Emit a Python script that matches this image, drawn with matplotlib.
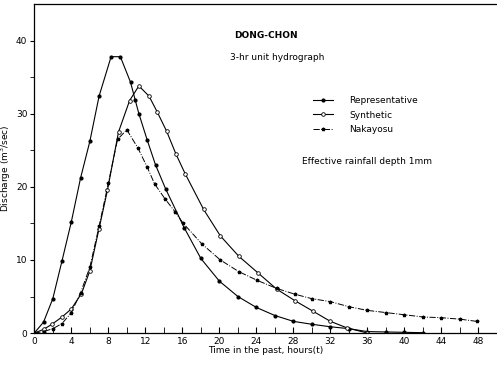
import numpy as np
import matplotlib
matplotlib.use('Agg')
import matplotlib.pyplot as plt

# representative unit hydrograph (filled dots)
t_rep = [0, 1, 2, 3, 4, 5, 6, 7, 8.3, 9.3, 10.4, 10.9, 11.3, 12.2, 13.1, 14.2,
         16.2, 18, 20, 22, 24, 26, 28, 30, 32, 34, 36, 38, 40, 42]
q_rep = [0, 1.5, 4.7, 9.9, 15.2, 21.2, 26.2, 32.4, 37.8, 37.8, 34.3, 31.9, 30.0, 26.4, 23.0, 19.7,
         14.4, 10.2, 7.1, 5.0, 3.5, 2.4, 1.6, 1.2, 0.86, 0.6, 0.2, 0.15, 0.1, 0.05]

# synthetic unit hydrograph (open circles)
t_syn = [0, 1, 1.9, 3, 4, 5.1, 6, 7, 7.9, 9.1, 10.3, 11.3, 12.4, 13.3, 14.3, 15.3, 16.3,
         18.3, 20.1, 22.1, 24.2, 26.2, 28.2, 30.1, 32, 33.8, 36]
q_syn = [0, 0.5, 1.2, 2.2, 3.3, 5.4, 8.5, 14.3, 19.5, 27.5, 31.8, 33.8, 32.4, 30.2, 27.6, 24.5, 21.8,
         16.9, 13.3, 10.5, 8.2, 6.0, 4.4, 3.0, 1.6, 0.7, 0.0]

# Nakayasu unit hydrograph (stars)
t_nak = [0, 1, 2, 3, 4, 5, 6, 7, 8, 9, 10, 11.2, 12.2, 13, 14.1, 15.2, 16.1, 18.1, 20.1, 22.1,
         24.1, 26.2, 28.2, 30, 32, 34, 36, 38, 40, 42, 44, 46, 47.8]
q_nak = [0, 0.2, 0.6, 1.3, 2.8, 5.5, 9.0, 14.6, 20.5, 26.5, 27.8, 25.3, 22.7, 20.4, 18.4, 16.6, 15.0,
         12.2, 10.0, 8.4, 7.2, 6.1, 5.3, 4.7, 4.3, 3.6, 3.1, 2.8, 2.5, 2.2, 2.1, 1.9, 1.6]

fig = plt.figure(figsize=(4.97, 3.66), dpi=100)
ax = fig.add_axes([0.069, 0.090, 0.931, 0.899])

ax.plot(t_rep, q_rep, '-', color='k', lw=0.8, marker='o', ms=2, mfc='k', label='Representative')
ax.plot(t_syn, q_syn, '-', color='k', lw=0.8, marker='o', ms=2.6, mfc='white', mew=0.6, label='Synthetic')
ax.plot(t_nak, q_nak, '-.', color='k', lw=0.7, marker='*', ms=2.5, label='Nakayosu')

ax.set_xlim(0, 50)
ax.set_ylim(0, 45)
ax.set_xticks(np.arange(0, 49, 4))
ax.set_xticks(np.arange(2, 49, 4), minor=True)
ax.set_yticks([0, 10, 20, 30, 40])
ax.set_yticks([5, 15, 25, 35], minor=True)
ax.tick_params(axis='x', which='both', direction='in', labelsize=6.5, length=4, pad=3)
ax.tick_params(axis='y', which='both', direction='out', labelsize=6.5, length=3, pad=2)
ax.spines['right'].set_visible(False)
for s in ['top', 'left', 'bottom']:
    ax.spines[s].set_linewidth(0.9)

ax.set_xlabel('Time in the past, hours(t)', fontsize=6.5, labelpad=0)
ax.set_ylabel('Discharge (m$^3$/sec)', fontsize=6.5, labelpad=2)

ax.text(266, 35, 'DONG-CHON', transform=None, fontsize=6.5, fontweight='bold',
        ha='center', va='center')
ax.text(277, 58, '3-hr unit hydrograph', transform=None, fontsize=6.5,
        ha='center', va='center')
ax.text(367, 162, 'Effective rainfall depth 1mm', transform=None, fontsize=6.5,
        ha='center', va='center')

# pixel coords measured from top, convert for transform=None
for t in ax.texts:
    x, y = t.get_position()
    t.set_position((x, 366 - y))

ax.legend(loc='upper left', bbox_to_anchor=(305 / 497, 1 - 88 / 366), bbox_transform=fig.transFigure,
          frameon=False, fontsize=6.5, handlelength=2.2, handletextpad=1.8, labelspacing=0.6)

fig.savefig('out.png', dpi=100)
